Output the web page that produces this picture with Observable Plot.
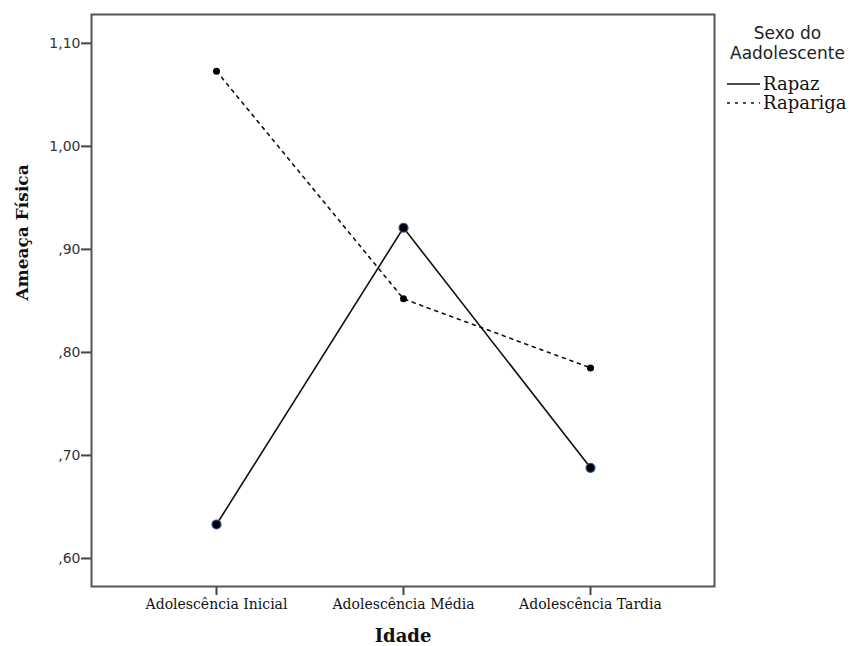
<!DOCTYPE html>
<html>
<head>
<meta charset="utf-8">
<script src="https://cdn.jsdelivr.net/npm/d3@7"></script>
<script src="https://cdn.jsdelivr.net/npm/@observablehq/plot@0.6"></script>
<style>
  html, body { margin: 0; padding: 0; background: #fff; }
  #wrap { position: relative; width: 851px; height: 646px; }
  #legend { position: absolute; left: 722px; top: 23px; width: 129px; }
  #legend .title { font-family: "DejaVu Sans", sans-serif; font-size: 17px; line-height: 20px; color: #222; text-align: center; margin-left: 2px; margin-bottom: 11px; }
  #legend .row { display: flex; align-items: center; height: 19px; font-family: "DejaVu Serif", serif; font-size: 18px; color: #111; padding-left: 4px; }
  #legend svg { margin-right: 3px; }
</style>
</head>
<body>
<div id="wrap">
  <div id="chart"></div>
  <div id="legend"></div>
</div>
<script>
const categories = ["Adolescência Inicial", "Adolescência Média", "Adolescência Tardia"];
const seriesNames = ["Rapaz", "Rapariga"];
const rapazValues = [0.633, 0.921, 0.688];
const raparigaValues = [1.073, 0.852, 0.785];
const yTicks = [0.6, 0.7, 0.8, 0.9, 1.0, 1.1];
const yDomain = [0.5728, 1.128];

const rapaz = categories.map((c, i) => ({idade: c, value: rapazValues[i]}));
const rapariga = categories.map((c, i) => ({idade: c, value: raparigaValues[i]}));

const fmt = d => d.toFixed(2).replace(".", ",").replace(/^0/, "");

const chart = Plot.plot({
  width: 851,
  height: 646,
  marginLeft: 91,
  marginRight: 137,
  marginTop: 14,
  marginBottom: 60,
  style: {background: "#fff", overflow: "visible"},
  x: {type: "point", domain: categories, padding: 0.665, label: null},
  y: {domain: yDomain, label: null},
  marks: [
    Plot.axisY({ticks: yTicks, tickFormat: fmt, tickSize: 10, tickPadding: 1, stroke: "#444", strokeWidth: 2,
      fontFamily: "DejaVu Sans, sans-serif", fontSize: 14, fill: "#333", label: null}),
    Plot.axisX({tickSize: 9, tickPadding: 4, stroke: "#444", strokeWidth: 2,
      fontFamily: "DejaVu Serif, serif", fontSize: 14, fill: "#111", label: null}),
    Plot.frame({stroke: "#555", strokeWidth: 2}),
    Plot.lineY(rapariga, {x: "idade", y: "value", stroke: "#111", strokeWidth: 1.6, strokeDasharray: "3,5"}),
    Plot.lineY(rapaz, {x: "idade", y: "value", stroke: "#111", strokeWidth: 1.6}),
    Plot.dot(rapariga, {x: "idade", y: "value", r: 3.5, fill: "#000", stroke: "none"}),
    Plot.dot(rapaz, {x: "idade", y: "value", r: 4.5, fill: "#000", stroke: "#34509a", strokeWidth: 1.2}),
    Plot.text(["Ameaça Física"], {frameAnchor: "left", dx: -69, rotate: -90, fontFamily: "DejaVu Serif, serif",
      fontWeight: "bold", fontSize: 17, fill: "#111"}),
    Plot.text(["Idade"], {frameAnchor: "bottom", dy: 55, fontFamily: "DejaVu Serif, serif",
      fontWeight: "bold", fontSize: 18, fill: "#111"})
  ]
});
document.getElementById("chart").appendChild(chart);

// Legend
const legend = document.getElementById("legend");
legend.innerHTML = `<div class="title">Sexo do<br>Aadolescente</div>`;
const dashes = [null, "3,5"];
seriesNames.forEach((name, i) => {
  const row = document.createElement("div");
  row.className = "row";
  row.innerHTML = `<svg width="34" height="6"><line x1="1" x2="34" y1="3" y2="3" stroke="#111" stroke-width="1.6" ${dashes[i] ? `stroke-dasharray="${dashes[i]}"` : ""}/></svg><span>${name}</span>`;
  legend.appendChild(row);
});
</script>
</body>
</html>
